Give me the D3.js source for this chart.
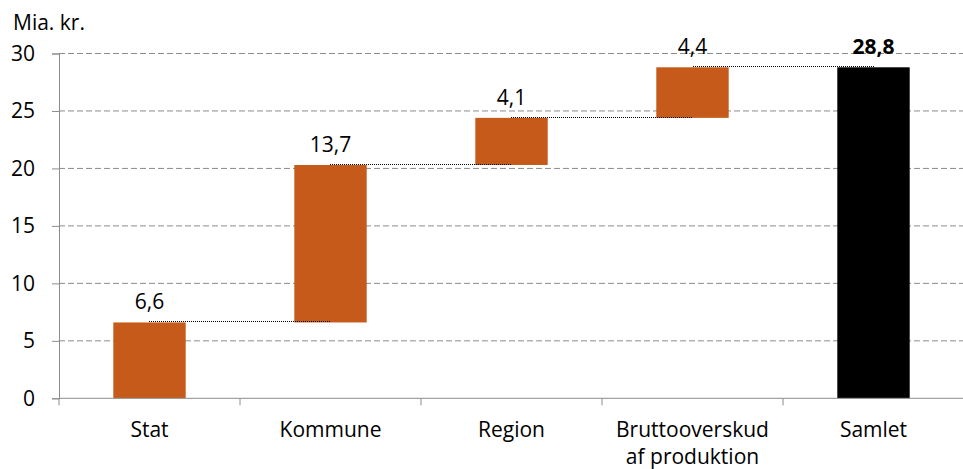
<!DOCTYPE html>
<html>
<head>
<meta charset="utf-8">
<script src="https://cdn.jsdelivr.net/npm/d3@7"></script>
<style>
  body { margin: 0; background: #fff; }
  text { font-family: "Open Sans", sans-serif; fill: #000; }
</style>
</head>
<body>
<svg></svg>
<script>
// data
const categories = ["Stat", "Kommune", "Region", "Bruttooverskud\naf produktion", "Samlet"];
const values = [6.6, 13.7, 4.1, 4.4, 28.8];
const labels = ["6,6", "13,7", "4,1", "4,4", "28,8"];
const yTicks = [0, 5, 10, 15, 20, 25, 30];

const width = 963, height = 469;
const plotL = 59, plotR = 964, plotT = 53.5, plotB = 398.3;

const svg = d3.select("svg").attr("width", width).attr("height", height);

// waterfall: first four stack on each other, last is total from 0
let run = 0;
const steps = values.map((v, i) => {
  const isTotal = i === values.length - 1;
  const start = isTotal ? 0 : run;
  const end = isTotal ? v : run + v;
  if (!isTotal) run += v;
  return { cat: categories[i], start, end, label: labels[i], total: isTotal };
});

const x = d3.scaleBand().domain(categories).range([plotL, plotR]).paddingInner(0.6).paddingOuter(0.3);
const y = d3.scaleLinear().domain([0, 30]).range([plotB, plotT]);

// gridlines
svg.append("g").selectAll("line")
  .data(yTicks.filter(d => d > 0)).enter().append("line")
  .attr("x1", plotL).attr("x2", width)
  .attr("y1", d => y(d)).attr("y2", d => y(d))
  .attr("stroke", "#8c8c8c").attr("stroke-width", 1)
  .attr("stroke-dasharray", "6,3");

// y axis
const yAxis = svg.append("g")
  .attr("transform", `translate(${plotL},0)`)
  .call(d3.axisLeft(y).tickValues(yTicks).tickSize(7).tickPadding(17).tickFormat(d3.format("d")));
yAxis.select(".domain").attr("stroke", "#8c8c8c");
yAxis.selectAll(".tick line").attr("stroke", "#8c8c8c");
yAxis.selectAll(".tick text").style("font-size", "21px").attr("fill", "#000");

svg.append("text").attr("x", 13).attr("y", 30)
  .style("font-size", "21px").text("Mia. kr.");

// bars
svg.append("g").selectAll("rect")
  .data(steps).enter().append("rect")
  .attr("x", d => x(d.cat))
  .attr("width", x.bandwidth())
  .attr("y", d => y(d.end))
  .attr("height", d => y(d.start) - y(d.end))
  .attr("fill", d => d.total ? "#000000" : "#c55a1b");

// connectors
const conn = steps.slice(0, -1).map((d, i) => ({ from: d.cat, to: steps[i + 1].cat, v: d.end }));
svg.append("g").selectAll("line")
  .data(conn).enter().append("line")
  .attr("x1", d => Math.round(x(d.from) + x.bandwidth() / 2))
  .attr("x2", d => Math.round(x(d.to) + x.bandwidth() / 2))
  .attr("y1", d => Math.round(y(d.v)) - 0.5).attr("y2", d => Math.round(y(d.v)) - 0.5)
  .attr("stroke", "#000").attr("stroke-width", 1)
  .attr("shape-rendering", "crispEdges")
  .attr("stroke-dasharray", "1,1");

// value labels
svg.append("g").selectAll("text")
  .data(steps).enter().append("text")
  .attr("x", d => x(d.cat) + x.bandwidth() / 2)
  .attr("y", d => y(d.end) - 13)
  .attr("text-anchor", "middle")
  .style("font-size", "21px")
  .style("font-weight", d => d.total ? "bold" : "normal")
  .text(d => d.label);

// x axis
const xb = d3.scaleBand().domain(categories).range([plotL, plotR]);
const boundaries = categories.map(c => xb(c));
const xg = svg.append("g");
xg.append("line").attr("x1", plotL).attr("x2", width)
  .attr("y1", plotB).attr("y2", plotB).attr("stroke", "#8c8c8c");
xg.selectAll(".tk").data(boundaries).enter().append("line")
  .attr("x1", d => d).attr("x2", d => d)
  .attr("y1", plotB).attr("y2", plotB + 7)
  .attr("stroke", "#8c8c8c");

const xl = xg.selectAll(".lbl").data(categories).enter().append("text")
  .attr("x", d => x(d) + x.bandwidth() / 2)
  .attr("y", 437)
  .attr("text-anchor", "middle")
  .style("font-size", "21px");
xl.each(function(d) {
  const t = d3.select(this);
  d.split("\n").forEach((line, i) => {
    t.append("tspan").attr("x", t.attr("x")).attr("dy", i === 0 ? 0 : 27).text(line);
  });
});
</script>
</body>
</html>
